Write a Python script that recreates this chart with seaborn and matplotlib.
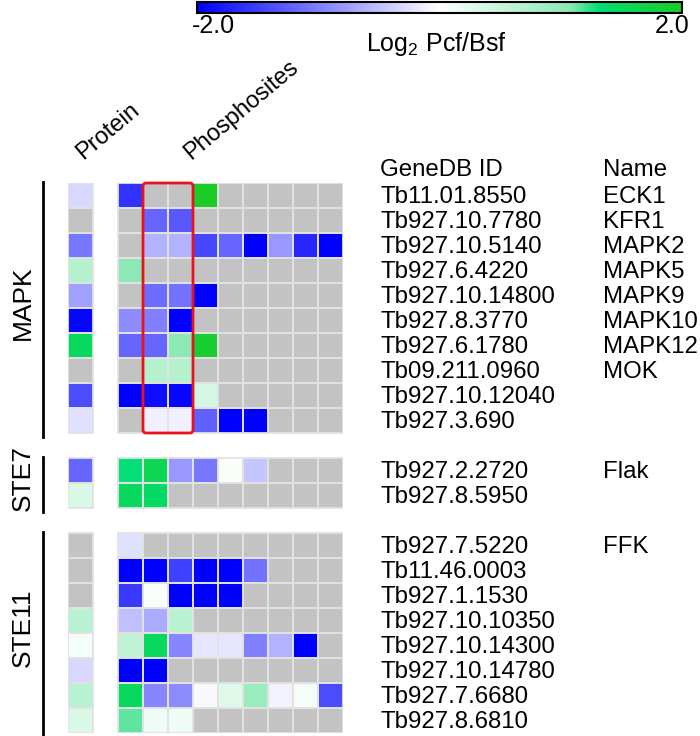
import numpy as np
import pandas as pd
import seaborn as sns
import matplotlib.pyplot as plt
from matplotlib.colors import LinearSegmentedColormap, ListedColormap
from matplotlib.patches import FancyBboxPatch

nan = np.nan

# MAPK group
mapk_ids = ['Tb11.01.8550', 'Tb927.10.7780', 'Tb927.10.5140', 'Tb927.6.4220', 'Tb927.10.14800',
            'Tb927.8.3770', 'Tb927.6.1780', 'Tb09.211.0960', 'Tb927.10.12040', 'Tb927.3.690']
mapk_names = ['ECK1', 'KFR1', 'MAPK2', 'MAPK5', 'MAPK9', 'MAPK10', 'MAPK12', 'MOK', '', '']
mapk_protein = [-0.3, nan, -1.05, 0.7, -0.75, -1.95, 1.5, nan, -1.4, -0.25]
mapk_sites = [
    [-1.6, nan, nan, 2.0, nan, nan, nan, nan, nan],
    [nan, -1.2, -1.3, nan, nan, nan, nan, nan, nan],
    [nan, -0.6, -0.6, -1.45, -1.2, -2.0, -0.8, -1.7, -2.0],
    [1.05, nan, nan, nan, nan, nan, nan, nan, nan],
    [nan, -1.15, -1.1, -2.0, nan, nan, nan, nan, nan],
    [-0.9, -1.0, -2.0, nan, nan, nan, nan, nan, nan],
    [-1.2, -1.2, 1.05, 1.9, nan, nan, nan, nan, nan],
    [nan, 0.7, 0.7, nan, nan, nan, nan, nan, nan],
    [-2.0, -1.9, -1.95, 0.4, nan, nan, nan, nan, nan],
    [nan, -0.12, -0.12, -1.25, -2.0, -2.0, nan, nan, nan],
]

# STE7 group
ste7_ids = ['Tb927.2.2720', 'Tb927.8.5950']
ste7_names = ['Flak', '']
ste7_protein = [-1.2, 0.35]
ste7_sites = [
    [1.3, 1.6, -0.8, -1.05, 0.05, -0.45, nan, nan, nan],
    [1.5, 1.45, nan, nan, nan, nan, nan, nan, nan],
]

# STE11 group
ste11_ids = ['Tb927.7.5220', 'Tb11.46.0003', 'Tb927.1.1530', 'Tb927.10.10350', 'Tb927.10.14300',
             'Tb927.10.14780', 'Tb927.7.6680', 'Tb927.8.6810']
ste11_names = ['FFK', '', '', '', '', '', '', '']
ste11_protein = [nan, nan, nan, 0.65, 0.1, -0.3, 0.65, 0.35]
ste11_sites = [
    [-0.25, nan, nan, nan, nan, nan, nan, nan, nan],
    [-2.0, -2.0, -1.5, -2.0, -2.0, -1.1, nan, nan, nan],
    [-1.55, 0.05, -2.0, -2.0, -2.0, nan, nan, nan, nan],
    [-0.5, -0.65, 0.65, nan, nan, nan, nan, nan, nan],
    [0.6, 1.5, -0.95, -0.2, -0.2, -1.0, -0.6, -2.0, nan],
    [-2.0, -2.0, nan, nan, nan, nan, nan, nan, nan],
    [1.5, -0.95, -0.9, -0.05, 0.3, 0.95, -0.1, 0.1, -1.4],
    [1.15, 0.15, 0.15, nan, nan, nan, nan, nan, nan],
]

groups = [('MAPK', mapk_ids, mapk_names, mapk_protein, mapk_sites),
          ('STE7', ste7_ids, ste7_names, ste7_protein, ste7_sites),
          ('STE11', ste11_ids, ste11_names, ste11_protein, ste11_sites)]

# build grid: protein col, blank col, 9 site cols; one blank row between groups
rows, present, labels, spans = [], [], [], []
for gi, (gname, ids, names, prot, sites) in enumerate(groups):
    start = len(rows)
    for i in range(len(ids)):
        rows.append([prot[i], nan] + list(sites[i]))
        present.append([True, False] + [True] * 9)
        labels.append((len(rows) - 1, ids[i], names[i]))
    spans.append((gname, start, len(rows)))
    if gi < len(groups) - 1:
        rows.append([nan] * 11)
        present.append([False] * 11)

vals = pd.DataFrame(rows)
present = np.array(present)

cmap = LinearSegmentedColormap.from_list('pcf', [(0, '#0000ff'), (0.5, '#ffffff'), (0.77, '#8ae9b4'),
                                                 (0.83, '#00dd74'), (1.0, '#1ccc26')])

plt.rcParams['font.family'] = ['Liberation Sans', 'DejaVu Sans']
plt.rcParams['mathtext.fontset'] = 'custom'
plt.rcParams['mathtext.rm'] = 'Liberation Sans'

fig = plt.figure(figsize=(7, 7.36), dpi=100)
ax = fig.add_axes([68 / 700, 3 / 736, 275 / 700, 550 / 736])
cax = fig.add_axes([197 / 700, 1 - 13 / 736, 485 / 700, 11 / 736])

grid_kw = dict(linewidths=1.3, linecolor='#ececec', xticklabels=False, yticklabels=False)
sns.heatmap(np.zeros(vals.shape), mask=~present, cmap=ListedColormap(['#c3c3c3']), cbar=False, ax=ax, **grid_kw)
sns.heatmap(vals, mask=vals.isna(), cmap=cmap, vmin=-2, vmax=2, ax=ax, cbar_ax=cax,
            cbar_kws={'orientation': 'horizontal'}, **grid_kw)
# masked cells still get edge lines; paint the blank row/column white again
for c in ax.collections:
    c.set_edgecolor('none')
for r in range(vals.shape[0]):
    for k in range(vals.shape[1]):
        if present[r, k]:
            ax.add_patch(plt.Rectangle((k, r), 1, 1, fill=False, edgecolor='#e2e2e2', lw=1.3, zorder=3))

# colour bar
cb = ax.collections[-1].colorbar
cb.set_ticks([])
cb.outline.set_edgecolor('black')
cb.outline.set_linewidth(1.5)
fig.text(192 / 700, 1 - 26 / 736, '-2.0', fontsize=18, ha='left', va='center')
fig.text(690 / 700, 1 - 26 / 736, '2.0', fontsize=18, ha='right', va='center')
fig.text(436 / 700, 1 - 44 / 736, r'Log$_2$ Pcf/Bsf', fontsize=18, ha='center', va='center')

# red box around the two highlighted site columns
ax.add_patch(FancyBboxPatch((3, 0), 2, 10, boxstyle='round,pad=0,rounding_size=0.12',
                            fill=False, edgecolor='#e8141c', lw=2, clip_on=False, zorder=5))

# column headers
ax.text(0.75, -0.78, 'Protein', rotation=40, rotation_mode='anchor', ha='left', va='bottom', fontsize=17)
ax.text(5.05, -0.78, 'Phosphosites', rotation=40, rotation_mode='anchor', ha='left', va='bottom', fontsize=17)

# row labels
fs = 17.3
ax.text(12.5, -0.5, 'GeneDB ID', fontsize=fs, va='center', ha='left')
ax.text(21.4, -0.5, 'Name', fontsize=fs, va='center', ha='left')
for r, gid, name in labels:
    ax.text(12.5, r + 0.55, gid, fontsize=fs, va='center', ha='left')
    if name:
        ax.text(21.4, r + 0.55, name, fontsize=fs, va='center', ha='left')

# group brackets
for gname, s, e in spans:
    ax.plot([-1.0, -1.0], [s - 0.05, e + 0.15], color='black', lw=2, clip_on=False)
    ax.text(-1.8, (s + e) / 2 - 0.2, gname, rotation=90, fontsize=19, ha='center', va='center')

fig.savefig('out.png', dpi=100)
